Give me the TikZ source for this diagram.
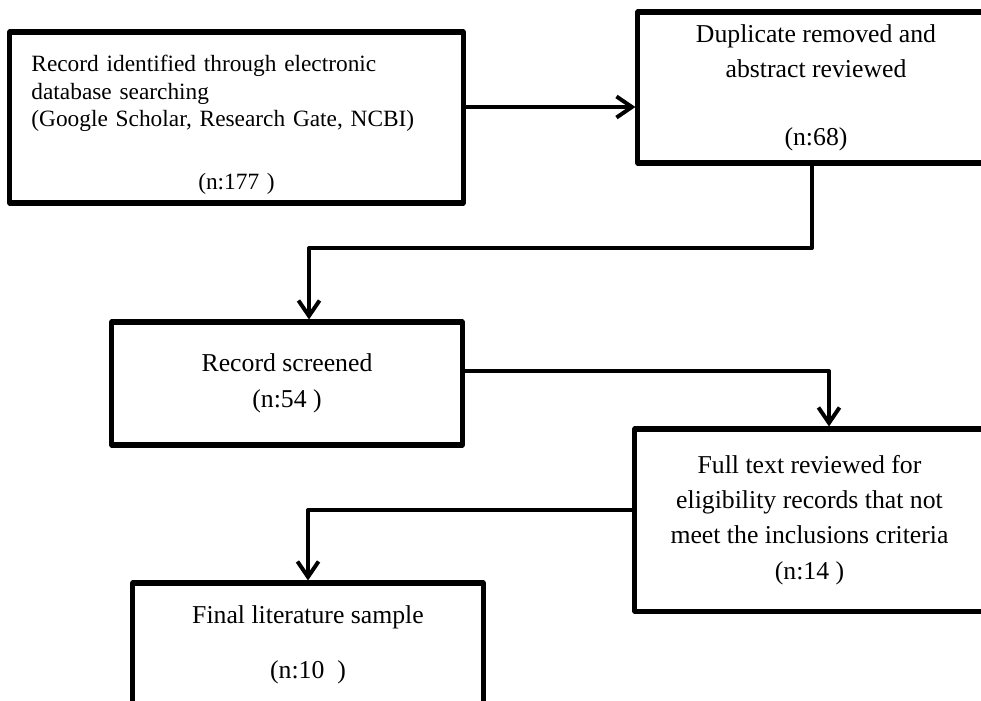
\documentclass[tikz,border=0pt]{standalone}
\usepackage{fontspec}
\setmainfont{Liberation Serif}
\usetikzlibrary{arrows.meta}
\begin{document}
\begin{tikzpicture}[x=0.025cm, y=-0.025cm, line join=round, line cap=round,
    >={Straight Barb[length=11pt,width=15pt]},
    box/.style={draw, line width=3.6pt, inner sep=0pt},
    arr/.style={->, line width=2.8pt},
    big/.style={font=\fontsize{18.3}{25}\selectfont}]
  \useasboundingbox (0,0) rectangle (981,700);
  % boxes
  \node[box, minimum width=11.325cm, minimum height=4.275cm, text width=10.25cm, align=left,
        font=\fontsize{16.6}{19.5}\selectfont] (rec) at (236.5,117.5)
        {\rule{0pt}{22pt}Record identified through electronic\\database searching\\(Google Scholar, Research Gate, NCBI)\\[25pt]\makebox[\linewidth]{(n:177 )}};
  \node[box, big, align=center, minimum width=8.9cm, minimum height=3.775cm] (dup) at (816,87.5)
        {Duplicate removed and\\abstract reviewed\\[23.4pt](n:68)};
  \node[box, big, align=center, minimum width=8.75cm, minimum height=3.075cm] (scr) at (287,383.5)
        {Record screened\\[1pt](n:54 )};
  \node[box, big, align=center, minimum width=8.725cm, minimum height=4.55cm] (full) at (809.5,520)
        {Full text reviewed for\\eligibility records that not\\meet the inclusions criteria\\(n:14 )};
  \node[box, big, align=center, minimum width=8.75cm, minimum height=3.1cm] (fin) at (308,645)
        {Final literature sample\\[14pt](n:10\ \ )};
  % connectors
  \draw[arr] (rec.east |- 0,107) -- (dup.west |- 0,107);
  \draw[arr] (dup.south -| 812,0) |- (309,248) -- (scr.north -| 309,0);
  \draw[arr] (scr.east |- 0,371) -| (full.north -| 829,0);
  \draw[arr] (full.west |- 0,510) -| (fin.north);
\end{tikzpicture}
\end{document}
